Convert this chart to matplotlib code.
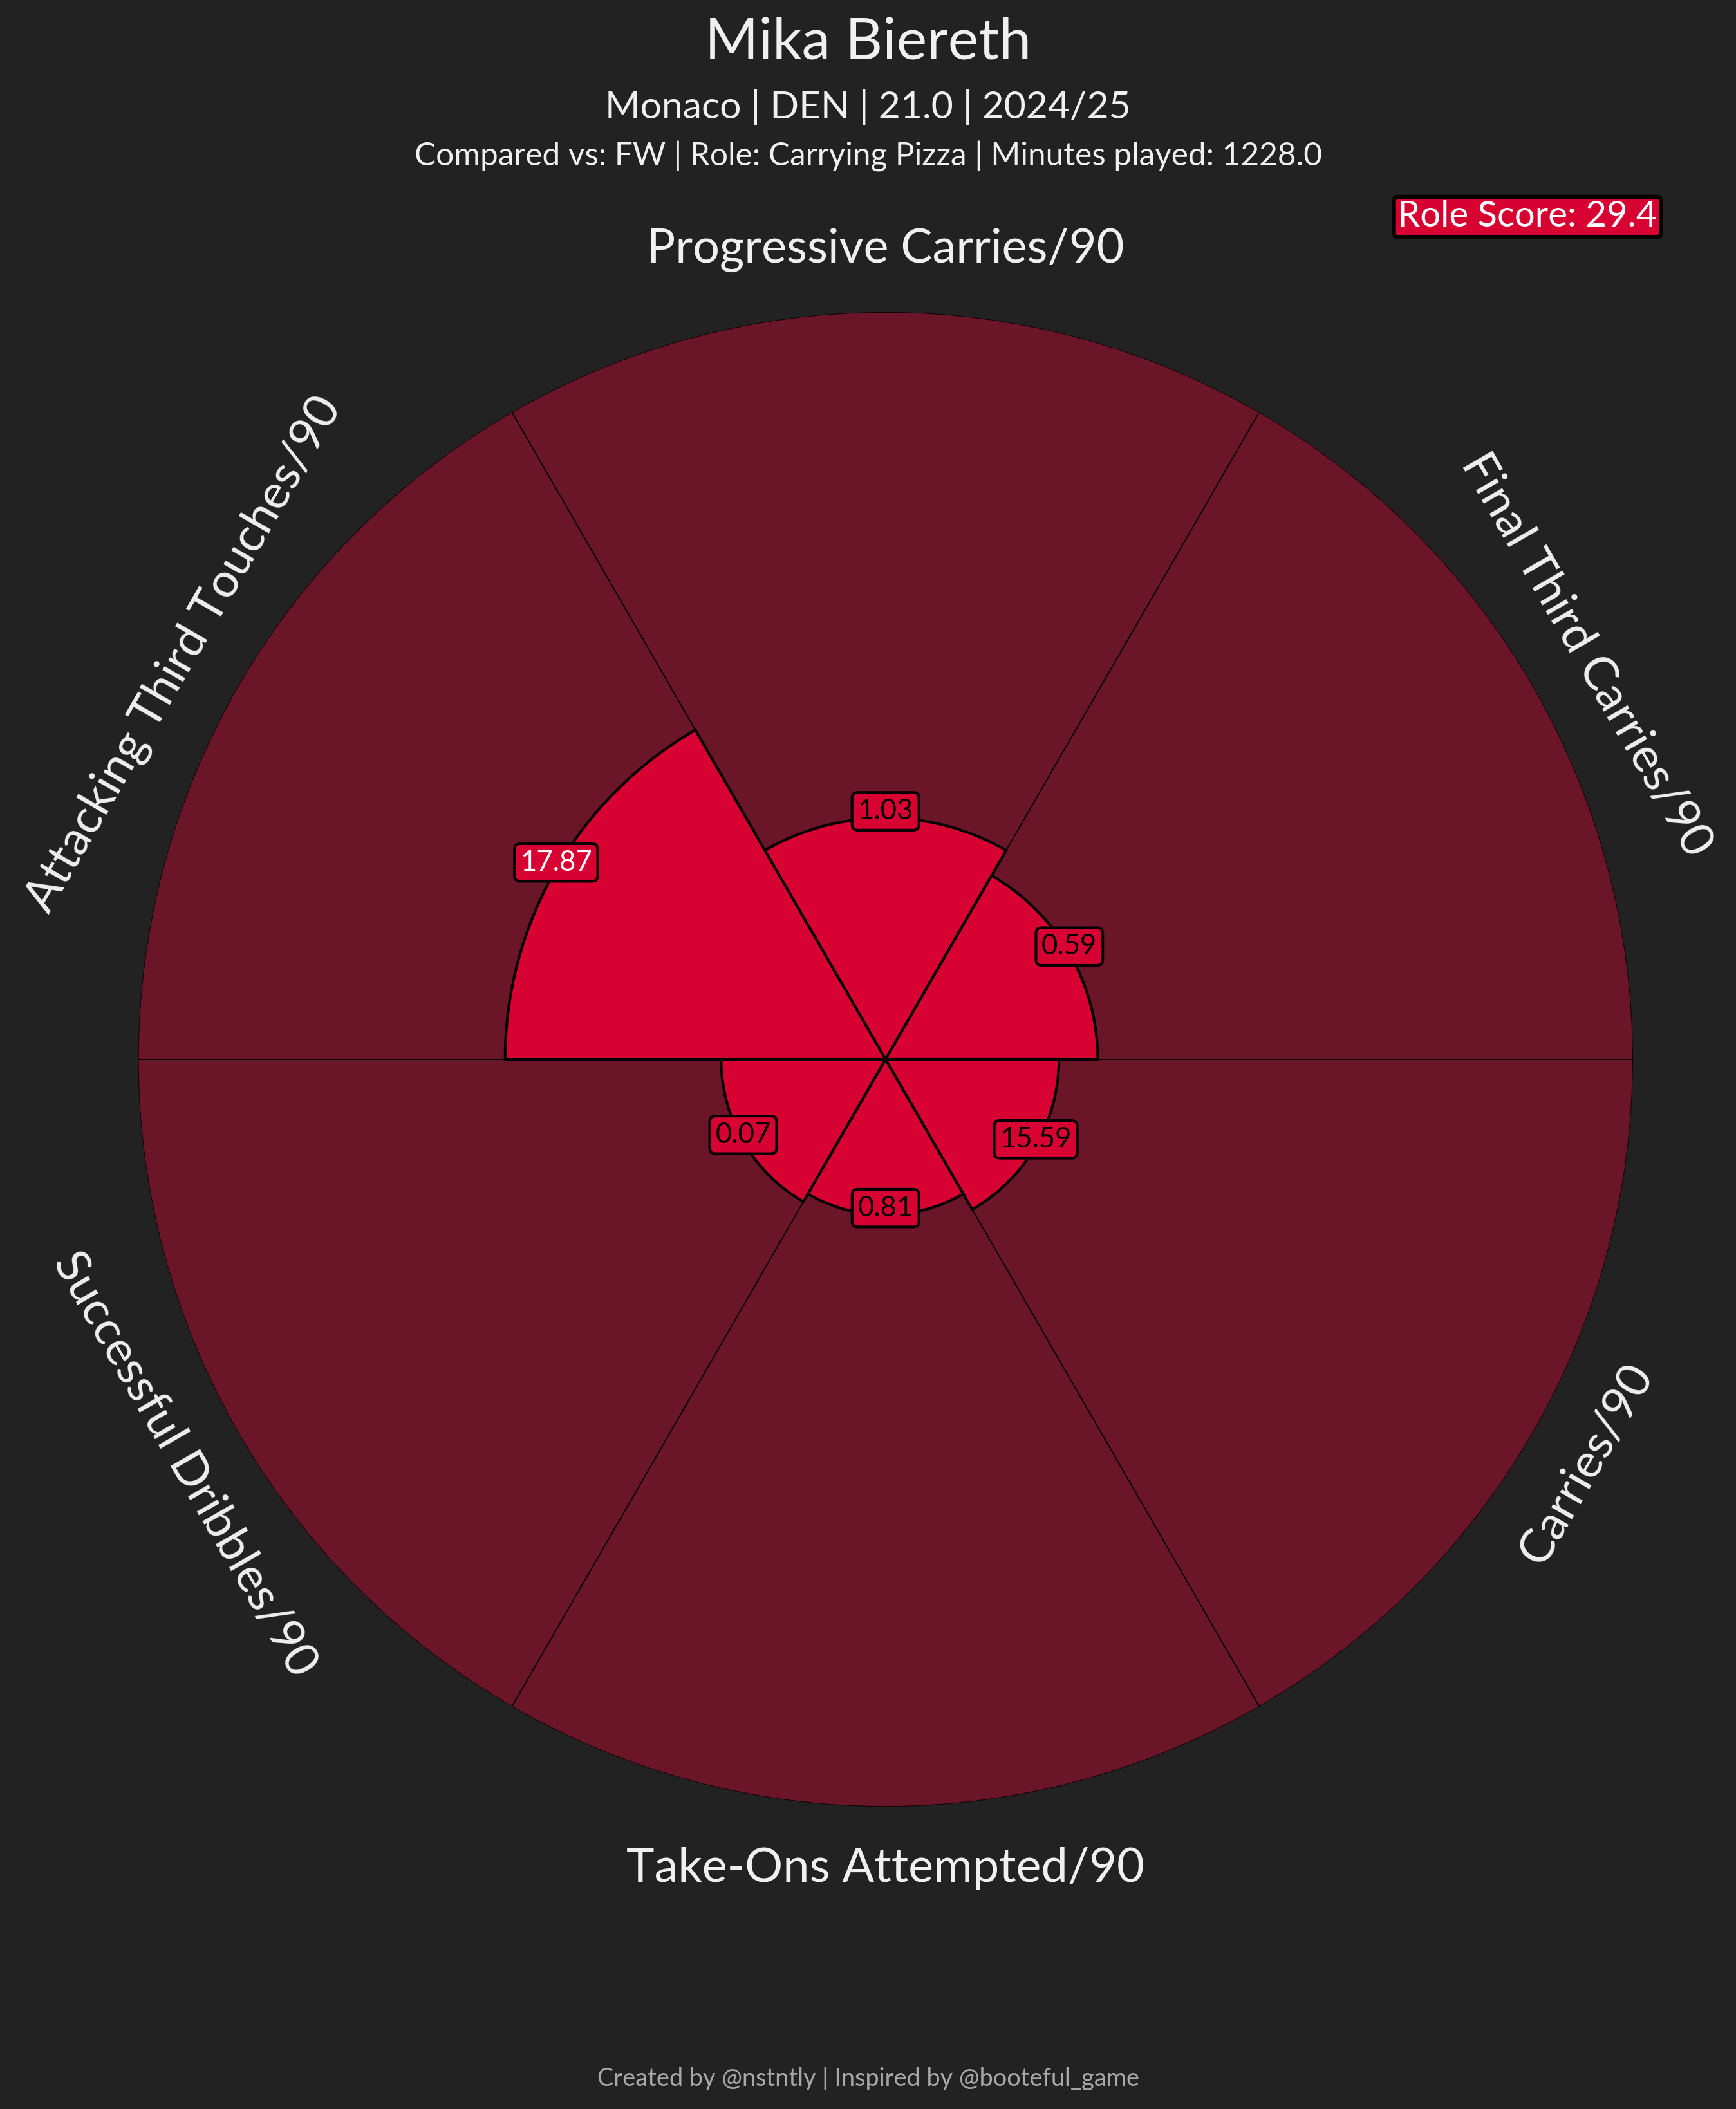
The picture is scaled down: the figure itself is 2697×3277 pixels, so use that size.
import numpy as np
import matplotlib
matplotlib.use("Agg")
import matplotlib.pyplot as plt
import matplotlib.transforms as mtransforms

# player info
player = "Mika Biereth"
subtitle = "Monaco | DEN | 21.0 | 2024/25"
context = "Compared vs: FW | Role: Carrying Pizza | Minutes played: 1228.0"
role_score = 29.4
credit = "Created by @nstntly | Inspired by @booteful_game"

# slices, clockwise from the top
params = ["Progressive Carries/90", "Final Third Carries/90", "Carries/90",
          "Take-Ons Attempted/90", "Successful Dribbles/90", "Attacking Third Touches/90"]
values = [1.03, 0.59, 15.59, 0.81, 0.07, 17.87]
percentiles = [32.3, 28.4, 23.2, 20.8, 22.0, 50.9]

BG = "#222222"
SLICE_BG = "#6a1528"
SLICE_FG = "#d70232"
TXT = "#f0f0f0"

plt.rcParams['font.family'] = ['Lato', 'DejaVu Sans']

fig = plt.figure(figsize=(2697 / 300, 3277 / 300), dpi=300, facecolor=BG)
ax = fig.add_axes([0.0796, 0.1434, 0.861, 0.7086], projection='polar')
ax.set_facecolor(BG)
ax.set_theta_zero_location('N')
ax.set_theta_direction(-1)

n = len(params)
theta = np.arange(n) * 2 * np.pi / n
width = 2 * np.pi / n

# background slices
ax.bar(theta, [100] * n, width=width, color=SLICE_BG, edgecolor="black",
       linewidth=0.4, zorder=1)
# player slices
ax.bar(theta, percentiles, width=width, color=SLICE_FG, edgecolor="black",
       linewidth=1.0, zorder=2)

ax.set_ylim(0, 100)
ax.set_xticks([])
ax.set_yticks([])
ax.grid(False)
ax.spines['polar'].set_visible(False)

# value boxes, nudged up a little
lift = ax.transData + mtransforms.ScaledTranslation(0, 2.5 / 72, fig.dpi_scale_trans)
for t, v, p in zip(theta, values, percentiles):
    ax.text(t, p, f"{v:.2f}", ha='center', va='center', fontsize=10.5,
            color='white' if p >= 50 else 'black', zorder=4, transform=lift,
            bbox=dict(boxstyle='round,pad=0.2', facecolor=SLICE_FG,
                      edgecolor='black', linewidth=1.0))

# parameter labels, rotated along the circle
for t, name in zip(theta, params):
    std = 90 - np.degrees(t)
    if np.sin(np.radians(std)) > 1e-6:
        rot = std - 90
    else:
        rot = std + 90
    ax.text(t, 108.3, name, ha='center', va='center', fontsize=17.7,
            color=TXT, rotation=rot, rotation_mode='anchor')

# titles
fig.text(0.5, 1 - 67 / 3277, player, ha='center', va='center', fontsize=21.5, color=TXT)
fig.text(0.5, 1 - 167 / 3277, subtitle, ha='center', va='center', fontsize=14.1, color=TXT)
fig.text(0.5, 1 - 243 / 3277, context, ha='center', va='center', fontsize=11.9, color=TXT)

fig.text(2373 / 2697, 1 - 337 / 3277, f"Role Score: {role_score}", ha='center',
         va='center', fontsize=13.5, color='white',
         bbox=dict(boxstyle='round,pad=0.1', facecolor=SLICE_FG,
                   edgecolor='black', linewidth=1.5))

fig.text(0.5, 1 - 3230 / 3277, credit, ha='center', va='center', fontsize=9.1,
         color="#a8a8a8")

fig.savefig("out.png", dpi=300, facecolor=BG)
